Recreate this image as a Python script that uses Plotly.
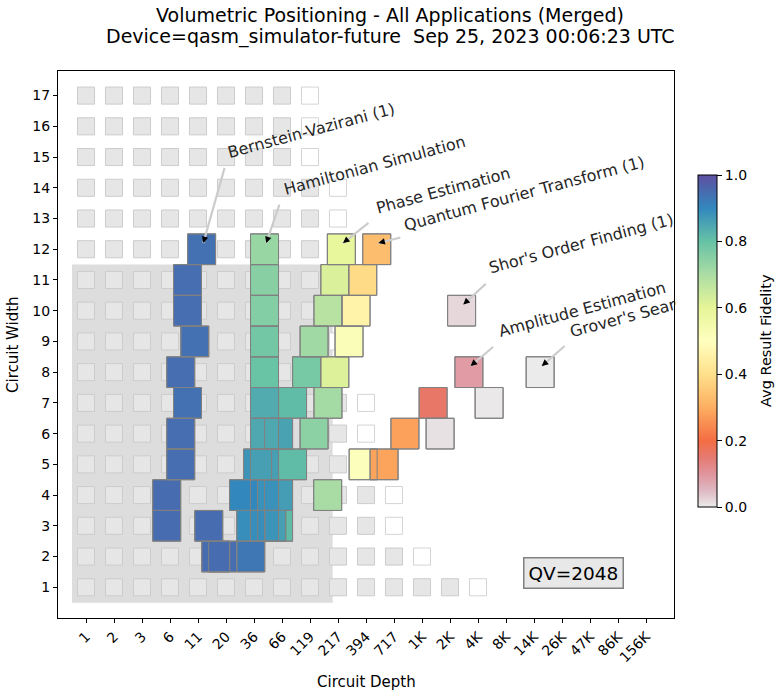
import math
import plotly.graph_objects as go
from plotly.colors import sample_colorscale

# ---------------- data ----------------
TITLE_LINE1 = "Volumetric Positioning - All Applications (Merged)"
TITLE_LINE2 = "Device=qasm_simulator-future\u00a0 Sep 25, 2023 00:06:23 UTC"
X_LABEL = "Circuit Depth"
Y_LABEL = "Circuit Width"
CBAR_LABEL = "Avg Result Fidelity"

DEPTH_TICK_LABELS = ["1", "2", "3", "6", "11", "20", "36", "66", "119", "217", "394",
                     "717", "1K", "2K", "4K", "8K", "14K", "26K", "47K", "86K", "156K"]
DEPTH_BASE = 1.818
WIDTH_TICKS = list(range(1, 18))

# background grid: number of gray depth cells per circuit width (next cell is white)
GRAY_COLUMNS = [14, 12, 11, 11, 10, 10, 10, 9, 9, 9, 9, 9, 9, 9, 8, 8, 8]

QV_VALUE = 2048
QV_WIDTH = 11
QV_DEPTH = 261

# applications (drawing order)
pe_widths = [2, 3, 4, 5, 6, 7, 8, 9, 10, 11, 12]
pe_depths = [18.5, 61.0, 61.0, 82.2, 61.0, 82.2, 110.9, 130.2, 175, 202.8, 233]
pe_fids = [0.945, 0.81, 0.865, 0.81, 0.855, 0.81, 0.775, 0.715, 0.68, 0.62, 0.59]

gr_widths = [3, 5, 7, 8]
gr_depths = [52.7, 371, 5460, 16230]
gr_fids = [0.86, 0.51, 0.003, 0.0]

qft_widths = [2, 3, 4, 5, 6, 7, 8, 9, 10, 11, 12]
qft_depths = [15.95, 13.74, 174, 38.96, 130.2, 175, 202.8, 274.6, 319, 368, 496]
qft_fids = [0.95, 0.95, 0.705, 0.88, 0.745, 0.71, 0.615, 0.52, 0.46, 0.39, 0.33]

ham_widths = [2, 3, 4, 5, 6, 7, 8, 9, 10, 11, 12]
ham_depths = [33.7, 45.2, 45.2, 45.2, 45.2, 45.2, 45.2, 45.2, 45.2, 45.2, 45.2]
ham_fids = [0.93, 0.88, 0.885, 0.86, 0.845, 0.84, 0.795, 0.78, 0.757, 0.75, 0.727]

ae_widths = [3, 4, 5, 6, 7, 8]
ae_depths = [33.7, 28.9, 580, 905, 1652, 3547]
ae_fids = [0.89, 0.9, 0.285, 0.28, 0.16, 0.09]

shor_widths = [6, 10]
shor_depths = [1918, 3036]
shor_fids = [0.01, 0.02]

bv_widths = [3, 4, 5, 6, 7, 8, 9, 10, 11, 12]
bv_depths = [5.6, 5.6, 7.55, 7.55, 8.73, 7.55, 10.2, 8.73, 8.73, 11.8]
bv_fids = [0.95, 0.95, 0.945, 0.945, 0.94, 0.945, 0.94, 0.945, 0.945, 0.94]

APPS = [
    ("Phase Estimation", pe_widths, pe_depths, pe_fids),
    ("Grover's Search", gr_widths, gr_depths, gr_fids),
    ("Quantum Fourier Transform (1)", qft_widths, qft_depths, qft_fids),
    ("Hamiltonian Simulation", ham_widths, ham_depths, ham_fids),
    ("Amplitude Estimation", ae_widths, ae_depths, ae_fids),
    ("Shor's Order Finding (1)", shor_widths, shor_depths, shor_fids),
    ("Bernstein-Vazirani (1)", bv_widths, bv_depths, bv_fids),
]

# label placement (pixel offsets from arrow tip): arrow tail, text centre
LABEL_STYLE = {
    "Bernstein-Vazirani (1)": ((21.7, -76.7), (108, -113)),
    "Hamiltonian Simulation": ((13.7, -40), (108, -78)),
    "Phase Estimation": ((27, -21.3), (100, -53)),
    "Quantum Fourier Transform (1)": ((23.4, -6), (146, -50)),
    "Shor's Order Finding (1)": ((24, -22.1), (118, -61)),
    "Amplitude Estimation": ((24, -20.3), (111, -57)),
    "Grover's Search": ((24.4, -21.3), (90, -51)),
}

# ---------------- colour scale ----------------
COLORSCALE = [
    [0.00, "rgb(235,235,235)"],
    [0.05, "rgb(222,184,194)"],
    [0.10, "rgb(224,148,157)"],
    [0.15, "rgb(230,122,113)"],
    [0.20, "rgb(244,109,67)"],
    [0.30, "rgb(253,174,97)"],
    [0.40, "rgb(254,224,139)"],
    [0.50, "rgb(255,255,191)"],
    [0.60, "rgb(230,245,152)"],
    [0.70, "rgb(171,221,164)"],
    [0.80, "rgb(102,194,165)"],
    [0.90, "rgb(50,136,189)"],
    [1.00, "rgb(94,79,162)"],
]

FONT = "DejaVu Sans"
ML, MR, MT, MB = 58, 106, 71, 78
PW, PH = 780 - ML - MR, 696 - MT - MB


def depth_pos(d):
    return math.log(d) / math.log(DEPTH_BASE)


def px_x(px):
    return (px - ML) / PW


def px_y(py):
    return (696 - MB - py) / PH


shapes = []
annotations = []

# QV region
shapes.append(dict(type="rect", xref="x", yref="y", x0=-0.5, x1=-0.5 + depth_pos(QV_DEPTH),
                   y0=0.5, y1=QV_WIDTH + 0.5, fillcolor="rgb(221,221,221)", line=dict(width=0),
                   layer="above"))

# background grid
BW, BH = 0.305, 0.278
for w, n in zip(WIDTH_TICKS, GRAY_COLUMNS):
    for k in range(n + 1):
        gray = k < n
        shapes.append(dict(type="rect", xref="x", yref="y", x0=k - BW, x1=k + BW,
                           y0=w - BH, y1=w + BH,
                           fillcolor="rgb(230,230,230)" if gray else "white",
                           line=dict(color="rgb(204,204,204)" if gray else "rgb(212,212,212)", width=1)))

# colored boxes (fill), then outlines on top
outlines = []
for name, ws, ds, fs in APPS:
    cols = sample_colorscale(COLORSCALE, fs)
    for w, d, c in zip(ws, ds, cols):
        x = depth_pos(d)
        shapes.append(dict(type="rect", xref="x", yref="y", x0=x - 0.5, x1=x + 0.5,
                           y0=w - 0.5, y1=w + 0.5, fillcolor=c,
                           line=dict(color="rgb(128,128,128)", width=1)))
        outlines.append(dict(type="rect", xref="x", yref="y", x0=x - 0.5, x1=x + 0.5,
                             y0=w - 0.5, y1=w + 0.5, fillcolor="rgba(0,0,0,0)",
                             line=dict(color="rgb(128,128,128)", width=1)))
shapes.extend(outlines)

# labels with arrows at each application's widest box
for name, ws, ds, fs in APPS:
    i = ws.index(max(ws))
    tx = depth_pos(ds[i]) + 0.06
    ty = ws[i] + 0.2
    (ax, ay), (cx, cy) = LABEL_STYLE[name]
    annotations.append(dict(x=tx, y=ty, xref="x", yref="y", text=name, showarrow=False,
                            xshift=cx, yshift=-cy, textangle=-15, xanchor="center",
                            yanchor="middle", font=dict(family=FONT, size=16, color="rgb(38,38,38)")))
    annotations.append(dict(x=tx, y=ty, xref="x", yref="y", text="", showarrow=True,
                            ax=ax, ay=ay, arrowhead=0, arrowwidth=2.2,
                            arrowcolor="rgb(204,204,204)", standoff=0, startstandoff=0))
    L = math.hypot(ax, ay)
    annotations.append(dict(x=tx, y=ty, xref="x", yref="y", text="", showarrow=True,
                            ax=ax / L * 6, ay=ay / L * 6, arrowhead=2, arrowsize=1,
                            arrowwidth=1.3, arrowcolor="black", standoff=0))

# white mask for text overflowing the right frame (matplotlib clips it)
annotations.append(dict(x=px_x(675.5), y=px_y(305), xref="paper", yref="paper",
                        xanchor="left", yanchor="middle", text=" ", showarrow=False,
                        width=21, height=50, bgcolor="white", borderpad=0, borderwidth=0))

# QV label
annotations.append(dict(x=17.4, y=1.48, xref="x", yref="y", text="QV=%d" % QV_VALUE,
                        showarrow=False, font=dict(family=FONT, size=18.5, color="black"),
                        bgcolor="rgb(232,232,232)", bordercolor="rgb(128,128,128)",
                        borderwidth=1.5, borderpad=4))

# titles
annotations.append(dict(x=px_x(390), y=px_y(15), xref="paper", yref="paper", text=TITLE_LINE1,
                        showarrow=False, font=dict(family=FONT, size=19, color="black"),
                        xanchor="center", yanchor="middle"))
annotations.append(dict(x=px_x(390), y=px_y(36), xref="paper", yref="paper", text=TITLE_LINE2,
                        showarrow=False, font=dict(family=FONT, size=19, color="black"),
                        xanchor="center", yanchor="middle"))

# axis titles
annotations.append(dict(x=0.5, y=px_y(682), xref="paper", yref="paper", text=X_LABEL,
                        showarrow=False, font=dict(family=FONT, size=15, color="black"),
                        xanchor="center", yanchor="middle"))
annotations.append(dict(x=px_x(13), y=px_y(345), xref="paper", yref="paper",
                        text=Y_LABEL, textangle=-90, showarrow=False,
                        font=dict(family=FONT, size=15, color="black"),
                        xanchor="center", yanchor="middle"))
# colour bar title
annotations.append(dict(x=px_x(766), y=px_y(341), xref="paper", yref="paper",
                        text=CBAR_LABEL, textangle=-90, showarrow=False,
                        font=dict(family=FONT, size=14.5, color="black"),
                        xanchor="center", yanchor="middle"))

fig = go.Figure()
# invisible trace carrying the colour bar
fig.add_trace(go.Scatter(
    x=[0], y=[-10], mode="markers", hoverinfo="skip", showlegend=False,
    marker=dict(color=[0.5], colorscale=COLORSCALE, cmin=0, cmax=1, opacity=0, showscale=True,
                colorbar=dict(x=px_x(698), xanchor="left", y=px_y(341),
                              yanchor="middle", len=332, lenmode="pixels", thickness=19,
                              xpad=0, ypad=0, outlinewidth=1, outlinecolor="black",
                              ticks="outside", ticklen=5, tickcolor="black",
                              tickvals=[0, 0.2, 0.4, 0.6, 0.8, 1.0],
                              ticktext=["0.0", "0.2", "0.4", "0.6", "0.8", "1.0"],
                              tickfont=dict(family=FONT, size=14, color="black")))))

fig.update_layout(
    width=780, height=696,
    margin=dict(l=ML, r=MR, t=MT, b=MB, autoexpand=False),
    paper_bgcolor="white", plot_bgcolor="white",
    xaxis=dict(range=[-1, 21], tickvals=list(range(len(DEPTH_TICK_LABELS))),
               ticktext=DEPTH_TICK_LABELS, tickangle=-45, showgrid=False, zeroline=False,
               showline=True, mirror=True, linecolor="black", linewidth=1,
               ticks="outside", ticklen=4, tickcolor="black", automargin=False,
               tickfont=dict(family=FONT, size=14, color="black")),
    yaxis=dict(range=[0, 17.8], tickvals=WIDTH_TICKS, showgrid=False, zeroline=False,
               showline=True, mirror=True, linecolor="black", linewidth=1,
               ticks="outside", ticklen=4, tickcolor="black", automargin=False,
               tickfont=dict(family=FONT, size=14, color="black")),
    shapes=shapes,
    annotations=annotations,
)

fig.write_html("out.html", config={"displayModeBar": False},
               post_script="document.body.style.margin='0px';")
